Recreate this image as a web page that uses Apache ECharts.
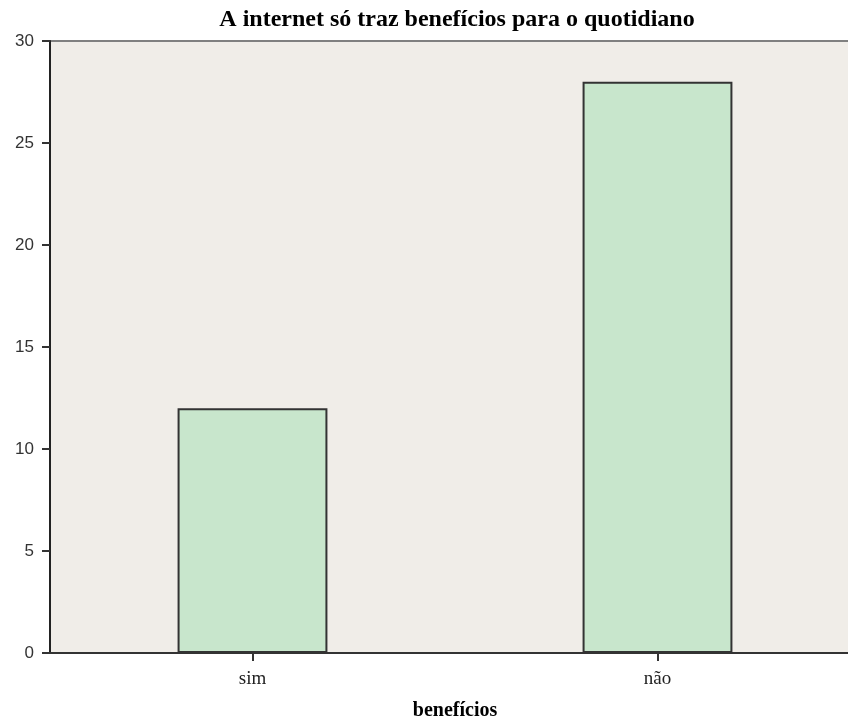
<!DOCTYPE html>
<html><head><meta charset="utf-8">
<script src="https://cdn.jsdelivr.net/npm/echarts@6/dist/echarts.min.js"></script>
<style>html,body{margin:0;padding:0;background:#fff}#c{width:848px;height:716px}</style>
</head><body><div id="c"></div>
<script>
var categories = ['sim', 'não'];
var values = [12, 28];
var yTicks = [0, 5, 10, 15, 20, 25, 30];

var chart = echarts.init(document.getElementById('c'));
chart.setOption({
  animation: false,
  title: {
    text: 'A internet só traz benefícios para o quotidiano',
    left: 452, top: 3, textAlign: 'center',
    textStyle: {fontFamily: 'Liberation Serif', fontWeight: 'bold', fontSize: 24, color: '#000'}
  },
  grid: {left: 50, right: -12, top: 41, bottom: 63, outerBoundsMode: 'none', containLabel: false,
    show: true, backgroundColor: '#F0EDE8', borderColor: '#808080', borderWidth: 2},
  xAxis: {
    type: 'category', data: categories,
    name: 'benefícios', nameLocation: 'middle', nameGap: 48,
    nameTextStyle: {fontFamily: 'Liberation Serif', fontWeight: 'bold', fontSize: 20, color: '#000'},
    axisLine: {lineStyle: {color: '#333', width: 2}},
    axisTick: {show: true, interval: 0, alignWithLabel: true, length: 8, lineStyle: {color: '#333', width: 2}},
    axisLabel: {fontFamily: 'Liberation Serif', fontSize: 19, color: '#222', margin: 17}
  },
  yAxis: {
    type: 'value', min: yTicks[0], max: yTicks[yTicks.length-1], interval: 5,
    axisLine: {show: true, lineStyle: {color: '#222', width: 2}},
    axisTick: {show: true, length: 8, lineStyle: {color: '#333', width: 2}},
    axisLabel: {fontFamily: 'Liberation Sans', fontSize: 17, color: '#333', margin: 16},
    splitLine: {show: false}
  },
  series: [{
    type: 'bar', data: values, barWidth: '37%',
    itemStyle: {color: '#C8E6CC', borderColor: '#333', borderWidth: 2}
  }]
});
</script></body></html>
